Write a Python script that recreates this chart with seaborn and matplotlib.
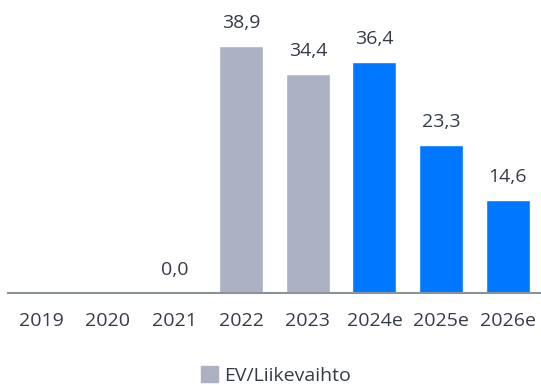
import matplotlib
matplotlib.use("Agg")
import matplotlib.pyplot as plt
import seaborn as sns
import pandas as pd
import numpy as np
from matplotlib.patches import Patch

years = ["2019", "2020", "2021", "2022", "2023", "2024e", "2025e", "2026e"]
values = [np.nan, np.nan, 0.0, 38.9, 34.4, 36.4, 23.3, 14.6]
kind = ["hist", "hist", "hist", "hist", "hist", "est", "est", "est"]
series_name = "EV/Liikevaihto"

gray = "#abb1c2"
blue = "#0077ff"
text_color = "#353c47"

sns.set_theme(style="white")
plt.rcParams["font.family"] = ["Open Sans", "DejaVu Sans"]

df = pd.DataFrame({"year": years, "value": values, "kind": kind})

fig = plt.figure(figsize=(5.41, 3.85), dpi=100)
ax = fig.add_axes([8 / 541, 92 / 385, 533 / 541, 293 / 385])

sns.barplot(data=df, x="year", y="value", hue="kind",
            palette={"hist": gray, "est": blue}, dodge=False,
            width=0.66, legend=False, ax=ax, saturation=1)

ax.set_ylim(0, 46.1)
ax.set_xlim(-0.5, 7.5)
for c in ax.containers:
    labels = []
    for v in c.datavalues:
        labels.append("" if np.isnan(v) else f"{v:.1f}".replace(".", ","))
    ax.bar_label(c, labels=labels, padding=10, fontsize=14, color=text_color)

ax.set_xlabel("")
ax.set_ylabel("")
ax.set_yticks([])
for s in ["top", "right", "left"]:
    ax.spines[s].set_visible(False)
ax.spines["bottom"].set_color("#8a939c")
ax.spines["bottom"].set_linewidth(1.5)
ax.tick_params(axis="x", length=0, pad=14, labelsize=14, labelcolor=text_color)

fig.legend(handles=[Patch(color=gray, label=series_name)], loc="center",
           bbox_to_anchor=(0.51, 0.025), frameon=False, fontsize=14,
           handlelength=0.9, handleheight=0.9, handletextpad=0.3,
           labelcolor=text_color)

fig.savefig("out.png", dpi=100)
